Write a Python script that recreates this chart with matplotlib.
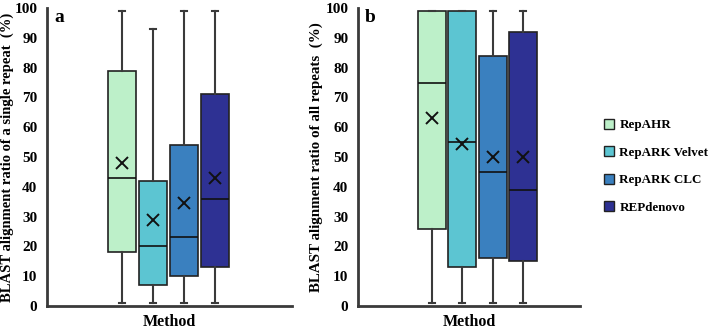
import matplotlib
matplotlib.use('Agg')
import matplotlib.pyplot as plt
from matplotlib.patches import Patch

plt.rcParams['font.family'] = ['Liberation Serif', 'DejaVu Serif']
plt.rcParams['font.weight'] = 'bold'

methods = ['RepAHR', 'RepARK Velvet', 'RepARK CLC', 'REPdenovo']
colors = ['#BDF0C9', '#5CC5D2', '#3A80BF', '#2E3193']

# panel a: single repeat
a_low = [1, 1, 1, 1]
a_q1 = [18, 7, 10, 13]
a_med = [43, 20, 23, 36]
a_q3 = [79, 42, 54, 71]
a_high = [99, 93, 99, 99]
a_mean = [48, 29, 34.5, 43]

# panel b: all repeats
b_low = [1, 1, 1, 1]
b_q1 = [26, 13, 16, 15]
b_med = [75, 55, 45, 39]
b_q3 = [99, 99, 84, 92]
b_high = [99, 99, 99, 99]
b_mean = [63, 54.5, 50, 50]

W, H = 708, 330
fig = plt.figure(figsize=(W / 100, H / 100), dpi=100)

edge = '#3a3a3a'


def panel(rect, low, q1, med, q3, high, mean, xmax, x0, step, ylabel, lx, lsize, tag):
    ax = fig.add_axes(rect)
    stats = []
    for i in range(4):
        stats.append(dict(whislo=low[i], q1=q1[i], med=med[i], q3=q3[i],
                          whishi=high[i], mean=mean[i], fliers=[]))
    pos = [x0 + step * i for i in range(4)]
    bp = ax.bxp(stats, positions=pos, widths=28, patch_artist=True,
                showmeans=True, meanline=False, manage_ticks=False,
                boxprops=dict(edgecolor='#222222', linewidth=1.2),
                medianprops=dict(color='#111111', linewidth=1.2),
                whiskerprops=dict(color=edge, linewidth=1.5),
                capprops=dict(color=edge, linewidth=1.5),
                meanprops=dict(marker='x', markeredgecolor='#111111',
                               markersize=8, markeredgewidth=1.4))
    for b, c in zip(bp['boxes'], colors):
        b.set_facecolor(c)
    for c in bp['caps']:
        c.set_xdata([c.get_xdata()[0] + 10, c.get_xdata()[1] - 10])
    ax.set_xlim(0, xmax)
    ax.set_ylim(0, 100)
    ax.set_yticks(range(0, 101, 10))
    ax.set_xticks([])
    ax.tick_params(axis='y', length=0, labelsize=11, pad=7)
    for s in ['top', 'right']:
        ax.spines[s].set_visible(False)
    for s in ['left', 'bottom']:
        ax.spines[s].set_color(edge)
        ax.spines[s].set_linewidth(2)
    ax.set_ylabel(ylabel, fontsize=lsize, fontweight='bold')
    ax.yaxis.set_label_coords(lx, 0.5)
    ax.set_xlabel('Method', fontsize=11.5, fontweight='bold', labelpad=6)
    ax.text(0.03, 0.995, tag, transform=ax.transAxes, fontsize=14,
            fontweight='bold', va='top', ha='left')
    return ax


panel([47 / W, 24 / H, 245 / W, 298 / H], a_low, a_q1, a_med, a_q3, a_high,
      a_mean, 245, 75, 31, 'BLAST alignment ratio of a single repeat  (%)',
      -33 / 245, 10.5, 'a')
panel([358 / W, 24 / H, 222 / W, 298 / H], b_low, b_q1, b_med, b_q3, b_high,
      b_mean, 222, 74, 30.4, 'BLAST alignment ratio of all repeats  (%)',
      -35 / 222, 10.8, 'b')

handles = [Patch(facecolor=c, edgecolor='#222222', linewidth=1) for c in colors]
fig.legend(handles, methods, loc='upper left', bbox_to_anchor=(604 / W, 1 - 119 / H),
           frameon=False, handlelength=0.78, handleheight=0.78, borderpad=0,
           borderaxespad=0, handletextpad=0.4, labelspacing=1.15,
           prop=dict(weight='bold', size=9.4))

fig.savefig('out.png', dpi=100)
